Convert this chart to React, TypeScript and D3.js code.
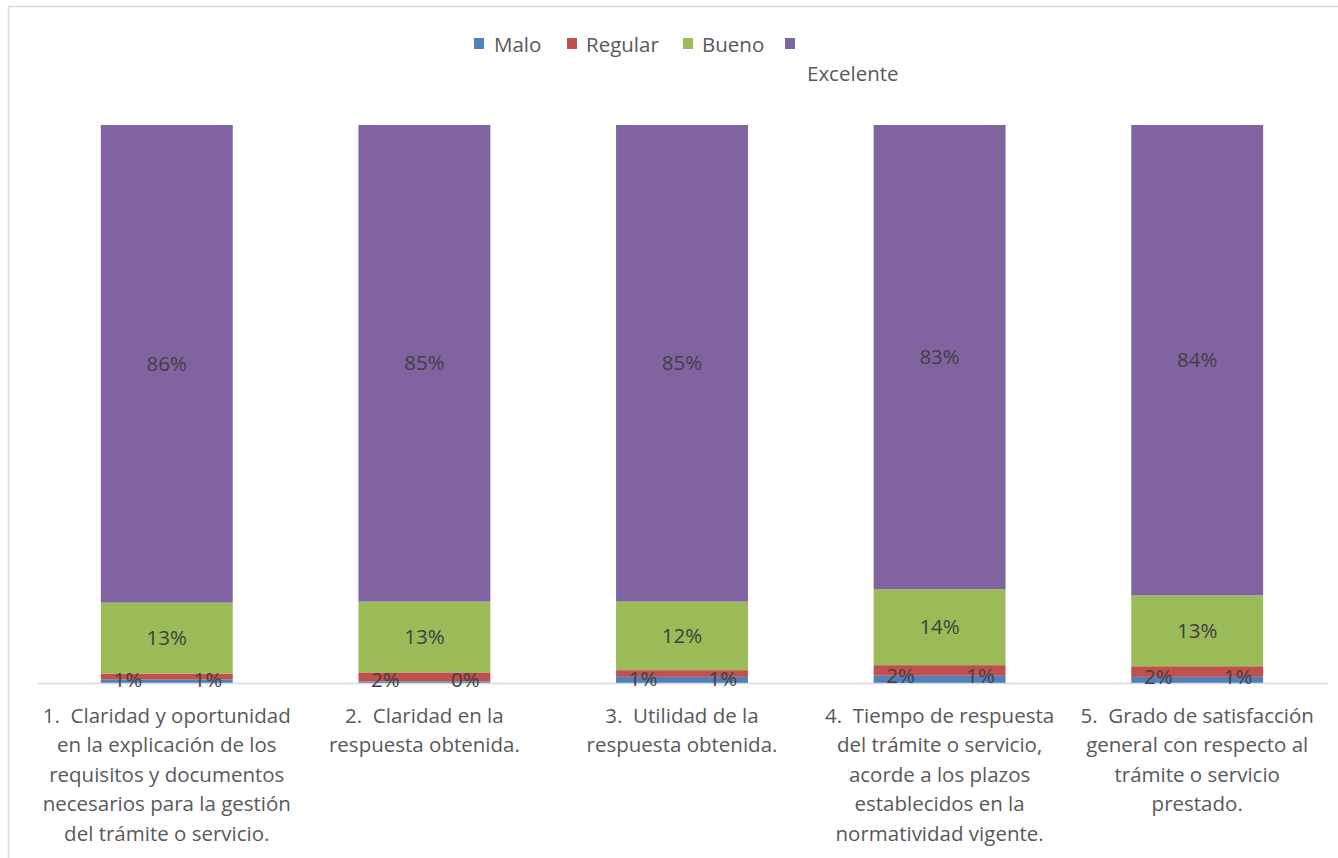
import React, { useEffect } from "react";
import * as d3 from "d3";

const categories = [
  ["1.  Claridad y oportunidad", "en la explicación de los", "requisitos y documentos", "necesarios para la gestión", "del trámite o servicio."],
  ["2.  Claridad en la", "respuesta obtenida."],
  ["3.  Utilidad de la", "respuesta obtenida."],
  ["4.  Tiempo de respuesta", "del trámite o servicio,", "acorde a los plazos", "establecidos en la", "normatividad vigente."],
  ["5.  Grado de satisfacción", "general con respecto al", "trámite o servicio", "prestado."],
];
const seriesNames = ["Malo", "Regular", "Bueno", "Excelente"];
const malo = [0.006, 0.003, 0.011, 0.013, 0.011];
const regular = [0.011, 0.016, 0.012, 0.019, 0.019];
const bueno = [0.127, 0.127, 0.123, 0.136, 0.127];
const excelente = [0.856, 0.854, 0.854, 0.832, 0.843];
const colors = ["#4f81bd", "#c0504d", "#9bbb59", "#8064a2"];

const W = 1338;
const H = 858;
const FONT = "'Open Sans', sans-serif";

export default function App() {
  useEffect(() => {
    document.body.style.margin = "0";
  }, []);

  const x = d3
    .scaleBand<number>()
    .domain(d3.range(categories.length))
    .range([38, 1326])
    .paddingInner(0.488)
    .paddingOuter(0.244);
  const y = d3.scaleLinear().domain([0, 1]).range([683, 125]);

  const rows = categories.map((_, i) => ({
    i,
    Malo: malo[i],
    Regular: regular[i],
    Bueno: bueno[i],
    Excelente: excelente[i],
  }));
  const stack = d3.stack<any>().keys(seriesNames)(rows);
  const fmt = (v: number) => `${Math.round(v * 100)}%`;

  const legendItems = [
    { name: "Malo", x: 474, tx: 494, ty: 52 },
    { name: "Regular", x: 567, tx: 586, ty: 52 },
    { name: "Bueno", x: 683, tx: 702, ty: 52 },
    { name: "Excelente", x: 785, tx: 807, ty: 81 },
  ];

  const bw = x.bandwidth();

  return (
    <svg width={W} height={H} style={{ display: "block", fontFamily: FONT }}>
      <rect x={0} y={0} width={W} height={H} fill="#fff" />
      <rect x={8.5} y={6.5} width={W + 20} height={H + 20} fill="#fff" stroke="#d9d9d9" strokeWidth={1.5} />

      {/* legend */}
      {legendItems.map((d, k) => (
        <g key={d.name}>
          <rect x={d.x} y={38} width={10} height={11} fill={colors[k]} />
          <text x={d.tx} y={d.ty} fontSize={20.5} fill="#595959">
            {d.name}
          </text>
        </g>
      ))}

      {/* bars */}
      {stack.map((s, k) => (
        <g key={s.key} fill={colors[k]}>
          {s.map((seg, i) => (
            <rect
              key={i}
              x={x(i)}
              y={y(seg[1])}
              width={bw}
              height={y(seg[0]) - y(seg[1])}
            />
          ))}
        </g>
      ))}

      {/* axis line */}
      <line x1={38} x2={1328} y1={y(0) + 0.5} y2={y(0) + 0.5} stroke="#d9d9d9" strokeWidth={1.5} />

      {/* data labels */}
      {categories.map((_, i) => {
        const x0 = x(i) as number;
        const cx = x0 + bw / 2;
        const lowY = (y(0) + y(malo[i] + regular[i])) / 2;
        const bSeg = stack[2][i];
        const eSeg = stack[3][i];
        return (
          <g key={i} fontSize={20.5} fill="#404040" textAnchor="middle">
            <text x={cx} y={(y(bSeg[0]) + y(bSeg[1])) / 2} dy="0.35em">
              {fmt(bueno[i])}
            </text>
            <text x={cx} y={(y(eSeg[0]) + y(eSeg[1])) / 2} dy="0.35em">
              {fmt(excelente[i])}
            </text>
            <text x={x0 + 27} y={lowY + 2} dy="0.35em">
              {fmt(regular[i])}
            </text>
            <text x={x0 + bw - 25} y={lowY + 2} dy="0.35em">
              {fmt(malo[i])}
            </text>
          </g>
        );
      })}

      {/* category labels */}
      {categories.map((lines, i) => {
        const cx = (x(i) as number) + bw / 2;
        return (
          <text key={i} x={cx} y={723} fontSize={20.5} fill="#595959" textAnchor="middle" style={{ whiteSpace: "pre" }}>
            {lines.map((l, j) => (
              <tspan key={j} x={cx} y={723 + j * 29.4}>
                {l}
              </tspan>
            ))}
          </text>
        );
      })}
    </svg>
  );
}
